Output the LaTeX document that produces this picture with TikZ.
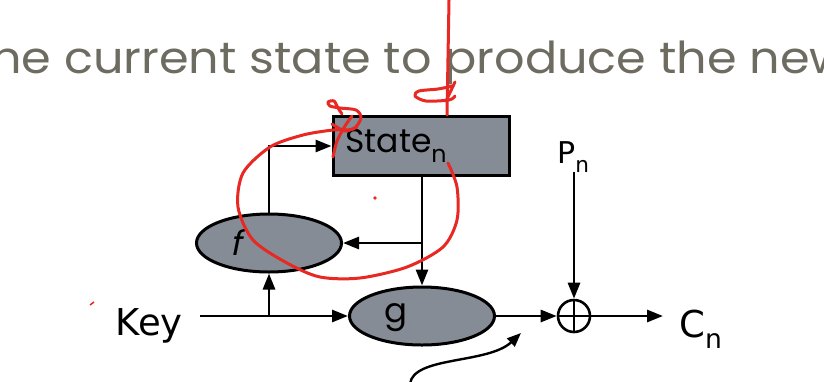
\documentclass[tikz,border=0pt]{standalone}
\usepackage{fontspec}
\usepackage{graphicx}
\usepackage{tikz}
\usetikzlibrary{arrows.meta,positioning,shapes.geometric}
\setmainfont{DejaVu Sans}
\newfontfamily\slidefont{Poppins}
\newfontfamily\slidewide[FakeStretch=1.085]{Poppins}
\newfontfamily\slideslant[FakeSlant=0.2]{Poppins}
\definecolor{slidegray}{RGB}{110,107,97}
\definecolor{boxgray}{RGB}{133,140,150}
\definecolor{inkred}{RGB}{232,40,34}
\newcommand{\lowidx}[1]{\raisebox{-0.3em}{\scalebox{0.72}{#1}}}

\begin{document}
\begin{tikzpicture}[
  x=1pt, y=-1pt,
  block/.style={draw, line width=3pt, fill=boxgray, inner sep=0pt},
  func/.style={block, ellipse, minimum width=145pt, minimum height=58pt},
  xorsign/.style={draw, circle, line width=2.6pt, minimum size=32pt, inner sep=0pt,
    path picture={\draw[line width=2.4pt] (path picture bounding box.north) -- (path picture bounding box.south)
      (path picture bounding box.west) -- (path picture bounding box.east);}},
  lbl/.style={inner sep=0pt, font=\fontsize{37}{40}\selectfont},
  arrow/.style={-{Triangle[length=16pt,width=12pt]}, line width=2.8pt},
  ink/.style={draw=inkred, line width=3pt, line cap=round, line join=round}
]
\useasboundingbox (0,0) rectangle (824,381);
\clip (0,0) rectangle (824,381);

% slide text
\node[inner sep=0pt, anchor=base west, text=slidegray, font=\slidewide\fontsize{44}{48}\selectfont] (caption) at (-9,73) {he current state to produce the new};

% blocks
\node[block, minimum width=176pt, minimum height=59pt,
  label={[xshift=-25pt, font=\slidefont\fontsize{33}{36}\selectfont]center:State\lowidx{n}}] (state) at (421,146) {};
\node[func, label={[xshift=-33pt, font=\slideslant\fontsize{34}{36}\selectfont]center:f}] (ff) at (269,243) {};
\node[func, label={[xshift=-26pt, yshift=-2pt, font=\slidefont\fontsize{34}{36}\selectfont]center:g}] (gg) at (422,316) {};
\node[xorsign] (xor) at (574,316) {};

% labels
\node[lbl, anchor=base east] (key) at (183,335) {Key};
\node[lbl, anchor=base west, font=\fontsize{30}{32}\selectfont] (pn) at (557,163) {P\lowidx{n}};
\node[lbl, anchor=base west] (cn) at (679,337) {C\lowidx{n}};

\coordinate (keysplit) at (269,316);
\coordinate (statesplit) at (422,243);
\coordinate (curvestart) at (410,384);

% connectors
\draw[arrow] ([xshift=17pt]key.east |- gg.west) -- (gg.west);
\draw[arrow] (keysplit) -- (ff.south);
\draw[arrow] (ff.north) |- (state.west);
\draw[arrow] (state.south -| statesplit) -- (statesplit |- gg.north);
\draw[arrow] (statesplit) -- (ff.east);
\draw[arrow] (gg.east) -- (xor.west);
\draw[arrow] (xor.north |- pn.south) -- (xor.north);
\draw[arrow] (xor.east) -- ([xshift=-16pt]cn.west |- xor.east);
\draw[-{Triangle[length=14pt,width=11pt]}, line width=2.4pt] (curvestart) .. controls (413,356) and (488,364) .. (521,333);

% red pen
\draw[ink] (449,0) -- (447,115);
\draw[ink] plot[smooth] coordinates {(453,86) (438,89) (419,91) (415,96) (426,101) (449,100) (455,96)};
\draw[ink] (455,82) -- (446,101);
\draw[ink] plot[smooth] coordinates {(448,163) (457,187) (457,220) (443,247) (407,267) (360,278) (320,277) (287,263) (253,240) (238,207) (243,173) (270,147) (303,135) (333,130) (353,129) (361,118) (356,110) (340,108) (330,106) (328,102) (334,101) (338,108) (342,114)};
\draw[ink] plot[smooth] coordinates {(333,157) (337,141) (345,126) (352,116)};
\draw[ink] plot[smooth] coordinates {(332,124) (345,131) (357,127)};
\fill[inkred] (375,198) circle (1.8);
\draw[inkred, line width=1.5pt] (90,305) -- (94,302);
\end{tikzpicture}
\end{document}
